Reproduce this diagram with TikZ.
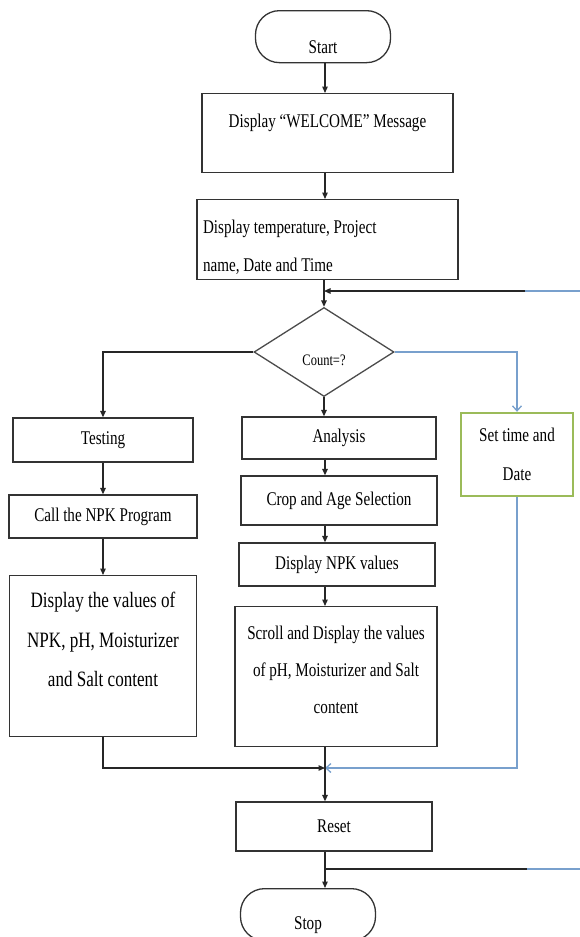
\documentclass[tikz,border=0pt]{standalone}
\usepackage{fontspec}
\setmainfont{Liberation Serif}[FakeStretch=0.78]
\usetikzlibrary{arrows.meta,shapes.geometric}
\definecolor{linkblue}{RGB}{120,160,205}
\definecolor{boxgreen}{RGB}{155,187,89}

\begin{document}
\begin{tikzpicture}[
		x=1pt, y=-1pt,
		box/.style={rectangle, draw=black!80, line width=1.3pt, align=flush center, inner sep=0pt, font=\fontsize{19.4}{38}\selectfont},
		term/.style={box, rounded corners=24pt, minimum width=135pt, anchor=north},
		decision/.style={diamond, draw=black!70, line width=1.3pt, inner sep=0pt, minimum width=140pt, minimum height=89pt, text height=26pt, text depth=0pt, font=\fontsize{16}{18}\selectfont},
		flow/.style={line width=1.3pt, draw=black!85},
		arrow/.style={flow, -{Triangle[length=6.5pt, width=5.5pt]}},
		blueline/.style={line width=1.3pt, draw=linkblue},
		bluearrow/.style={blueline, -{Straight Barb[length=5pt, width=9pt]}}
		]
		\path[use as bounding box, fill=white] (0,0) rectangle (580,937);

		\node (start) at (323, 10) [term, text height=43pt, text depth=9pt] {Start};
		\node (welcome) at (327.5, 93) [box, anchor=north, minimum width=251pt, text height=34pt, text depth=45pt] {Display “WELCOME” Message};
		\node (info) at (327.5, 199) [box, anchor=north, align=flush left, text width=249pt, inner xsep=6pt, text height=34pt, text depth=46pt] {Display temperature, Project\\name, Date and Time};
		\node (count) at (324, 352) [decision] {Count=?};

		\node (testing) at (103, 440) [box, minimum width=180pt, minimum height=44pt] {Testing};
		\node (npkcall) at (103, 516.5) [box, minimum width=188pt, minimum height=43pt] {Call the NPK Program};
		\node (values) at (103, 575) [box, anchor=north, text width=187pt, text height=32pt, text depth=129pt, font=\fontsize{21.9}{39.5}\selectfont] {Display the values of\\NPK, pH, Moisturizer\\and Salt content};

		\node (analysis) at (339, 438) [box, minimum width=194pt, minimum height=42pt] {Analysis};
		\node (crop) at (339, 500.5) [box, minimum width=196pt, minimum height=49pt] {Crop and Age Selection};
		\node (npkshow) at (337, 564.5) [box, minimum width=196pt, minimum height=43pt] {Display NPK values};
		\node (scroll) at (336, 606) [box, anchor=north, text width=202pt, text height=33pt, text depth=107pt, font=\fontsize{19.4}{37}\selectfont] {Scroll and Display the values\\of pH, Moisturizer and Salt\\content};

		\node (settime) at (517, 454.5) [box, draw=boxgreen, line width=2.4pt, minimum width=112pt, minimum height=83pt, font=\fontsize{19.4}{39}\selectfont] {Set time and\\Date};

		\node (reset) at (334, 826.5) [box, minimum width=196pt, minimum height=49pt] {Reset};
		\node (stop) at (308, 888) [term, text height=41pt, text depth=11pt] {Stop};

		\coordinate (merge) at (325, 768);
		\coordinate (loopin) at (582, 291);
		\coordinate (loopbend) at (525, 291);
		\coordinate (loopout) at (582, 869);
		\coordinate (outbend) at (527, 869);

		\draw [arrow] (start.south -| merge) -- (welcome.north -| merge);
		\draw [arrow] (welcome.south -| merge) -- (info.north -| merge);
		\draw [arrow] (info.south -| count.north) -- (count.north);
		\draw [blueline] (loopin) -- (loopbend);
		\draw [arrow] (loopbend) -- (loopbend -| count.north);

		\draw [arrow] (count.west) -| (testing.north);
		\draw [arrow] (count.south) -- (count.south |- analysis.north);
		\draw [bluearrow] (count.east) -| (settime.north);

		\draw [arrow] (testing) -- (npkcall);
		\draw [arrow] (npkcall) -- (values);
		\draw [arrow] (analysis.south -| merge) -- (crop.north -| merge);
		\draw [arrow] (crop.south -| merge) -- (npkshow.north -| merge);
		\draw [arrow] (npkshow.south -| merge) -- (scroll.north -| merge);

		\draw [arrow] (values.south) |- (merge);
		\draw [bluearrow] (settime.south) |- (merge);
		\draw [arrow] (scroll.south -| merge) -- (reset.north -| merge);

		\draw [arrow] (reset.south -| merge) -- (stop.north -| merge);
		\draw [flow] (merge |- loopout) -- (outbend);
		\draw [blueline] (outbend) -- (loopout);
	\end{tikzpicture}
\end{document}
